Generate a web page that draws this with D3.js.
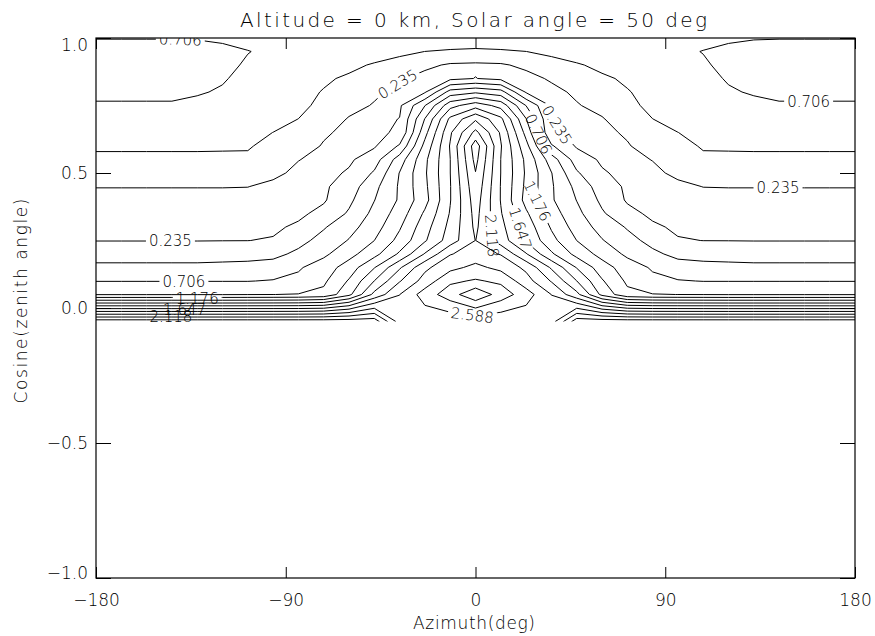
<!DOCTYPE html>
<html>
<head>
<meta charset="utf-8">
<title>Altitude = 0 km, Solar angle = 50 deg</title>
<script src="https://cdn.jsdelivr.net/npm/d3@7"></script>
<style>
  body { margin: 0; background: #fff; }
  text { font-family: "DejaVu Sans", sans-serif; font-weight: 200; fill: #000; }
</style>
</head>
<body>
<div id="graph"></div>
<script>
// model grid: one column every 12 deg of azimuth, one row per cos(zenith)
var azimuth = [-180, -168, -156, -144, -132, -120, -108, -96, -84, -72, -60, -48, -36, -24, -12,
               0, 12, 24, 36, 48, 60, 72, 84, 96, 108, 120, 132, 144, 156, 168, 180];

var cosZenith = [1.0, 0.95, 0.9, 0.85, 0.8, 0.75, 0.7, 0.65, 0.6, 0.55, 0.5,
                 0.45, 0.4, 0.35, 0.3, 0.25, 0.2, 0.15, 0.1, 0.05, -0.05];

// contour levels (IDL style, labels on every other one)
var levels = [0.235, 0.471, 0.706, 0.941, 1.176, 1.412, 1.647, 1.882, 2.118, 2.353, 2.588, 2.824, 3.059];

// radiance, one row per cosZenith value
var radiance = [
  [0.70,0.70,0.70,0.70,0.697,0.683,0.665,0.66,0.655,0.65,0.65,0.65,0.65,0.65,0.65, 0.65, 0.65,0.65,0.65,0.65,0.65,0.65,0.655,0.66,0.665,0.683,0.697,0.70,0.70,0.70,0.70],
  [0.77,0.77,0.77,0.77,0.76,0.74,0.71,0.68,0.66,0.64,0.62,0.58,0.52,0.47,0.44, 0.42, 0.44,0.47,0.52,0.58,0.62,0.64,0.66,0.68,0.71,0.74,0.76,0.77,0.77,0.77,0.77],
  [0.79,0.79,0.79,0.79,0.77,0.74,0.69,0.67,0.64,0.58,0.52,0.45,0.39,0.28,0.21, 0.20, 0.21,0.28,0.39,0.45,0.52,0.58,0.64,0.67,0.69,0.74,0.77,0.79,0.79,0.79,0.79],
  [0.78,0.78,0.78,0.78,0.76,0.72,0.66,0.63,0.58,0.50,0.44,0.37,0.26,0.17,0.18, 0.24, 0.18,0.17,0.26,0.37,0.44,0.50,0.58,0.63,0.66,0.72,0.76,0.78,0.78,0.78,0.78],
  [0.74,0.74,0.74,0.74,0.72,0.69,0.63,0.58,0.53,0.46,0.36,0.27,0.18,0.21,0.80, 0.90, 0.80,0.21,0.18,0.27,0.36,0.46,0.53,0.58,0.63,0.69,0.72,0.74,0.74,0.74,0.74],
  [0.69,0.69,0.69,0.69,0.67,0.64,0.59,0.57,0.52,0.42,0.30,0.22,0.20,0.70,1.33, 1.55, 1.33,0.70,0.20,0.22,0.30,0.42,0.52,0.57,0.59,0.64,0.67,0.69,0.69,0.69,0.69],
  [0.62,0.62,0.62,0.62,0.60,0.58,0.55,0.52,0.47,0.35,0.22,0.18,0.24,0.95,1.70, 2.08, 1.70,0.95,0.24,0.18,0.22,0.35,0.47,0.52,0.55,0.58,0.60,0.62,0.62,0.62,0.62],
  [0.56,0.56,0.56,0.56,0.55,0.53,0.51,0.47,0.38,0.26,0.19,0.20,0.26,1.10,1.85, 2.42, 1.85,1.10,0.26,0.20,0.19,0.26,0.38,0.47,0.51,0.53,0.55,0.56,0.56,0.56,0.56],
  [0.50,0.50,0.50,0.50,0.50,0.49,0.48,0.44,0.32,0.22,0.19,0.21,0.50,1.25,1.90, 2.72, 1.90,1.25,0.50,0.21,0.19,0.22,0.32,0.44,0.48,0.49,0.50,0.50,0.50,0.50,0.50],
  [0.43,0.43,0.43,0.43,0.43,0.44,0.454,0.38,0.24,0.19,0.20,0.36,0.82,1.36,1.88, 2.66, 1.88,1.36,0.82,0.36,0.20,0.19,0.24,0.38,0.454,0.44,0.43,0.43,0.43,0.43,0.43],
  [0.34,0.34,0.34,0.34,0.34,0.34,0.33,0.27,0.20,0.17,0.26,0.50,0.95,1.38,1.88, 2.58, 1.88,1.38,0.95,0.50,0.26,0.17,0.20,0.27,0.33,0.34,0.34,0.34,0.34,0.34,0.34],
  [0.24,0.24,0.24,0.24,0.24,0.24,0.238,0.20,0.17,0.20,0.35,0.64,0.97,1.36,1.87, 2.52, 1.87,1.36,0.97,0.64,0.35,0.20,0.17,0.20,0.238,0.24,0.24,0.24,0.24,0.24,0.24],
  [0.19,0.19,0.19,0.19,0.19,0.19,0.18,0.17,0.17,0.21,0.42,0.70,0.97,1.33,1.87, 2.47, 1.87,1.33,0.97,0.70,0.42,0.21,0.17,0.17,0.18,0.19,0.19,0.19,0.19,0.19,0.19],
  [0.17,0.17,0.17,0.17,0.17,0.17,0.165,0.16,0.19,0.30,0.50,0.77,1.05,1.45,1.90, 2.43, 1.90,1.45,1.05,0.77,0.50,0.30,0.19,0.16,0.165,0.17,0.17,0.17,0.17,0.17,0.17],
  [0.18,0.18,0.18,0.18,0.18,0.18,0.185,0.20,0.27,0.45,0.62,0.84,1.15,1.55,1.95, 2.40, 1.95,1.55,1.15,0.84,0.62,0.45,0.27,0.20,0.185,0.18,0.18,0.18,0.18,0.18,0.18],
  [0.23,0.23,0.23,0.23,0.23,0.232,0.233,0.25,0.40,0.55,0.72,0.94,1.25,1.62,2.00, 2.357, 2.00,1.62,1.25,0.94,0.72,0.55,0.40,0.25,0.233,0.232,0.23,0.23,0.23,0.23,0.23],
  [0.36,0.36,0.36,0.36,0.36,0.37,0.38,0.41,0.52,0.66,0.86,1.10,1.45,1.90,2.34, 2.45, 2.34,1.90,1.45,1.10,0.86,0.66,0.52,0.41,0.38,0.37,0.36,0.36,0.36,0.36,0.36],
  [0.53,0.53,0.53,0.53,0.53,0.54,0.55,0.57,0.68,0.82,1.05,1.40,1.85,2.30,2.52, 2.65, 2.52,2.30,1.85,1.40,1.05,0.82,0.68,0.57,0.55,0.54,0.53,0.53,0.53,0.53,0.53],
  [0.70,0.70,0.70,0.70,0.70,0.70,0.70,0.72,0.76,0.90,1.20,1.65,2.10,2.45,2.78, 2.85, 2.78,2.45,2.10,1.65,1.20,0.90,0.76,0.72,0.70,0.70,0.70,0.70,0.70,0.70,0.70],
  [0.93,0.93,0.93,0.93,0.93,0.93,0.935,0.94,0.95,1.00,1.35,1.95,2.35,2.70,2.95, 3.25, 2.95,2.70,2.35,1.95,1.35,1.00,0.95,0.94,0.935,0.93,0.93,0.93,0.93,0.93,0.93],
  [3.20,3.20,3.20,3.20,3.20,3.20,3.20,3.20,3.20,3.20,3.20,3.20,2.48,2.42,2.40, 2.40, 2.40,2.42,2.48,3.20,3.20,3.20,3.20,3.20,3.20,3.20,3.20,3.20,3.20,3.20,3.20]
];

var xTicks = [-180, -90, 0, 90, 180];
var yTicks = [-1.0, -0.5, 0.0, 0.5, 1.0];

// where IDL put the contour labels: [level, azimuth, cos(zenith), follow the line?]
var labelSpots = [
  [0.706, -140, 0.996, true],
  [0.235, -37, 0.83, true],
  [0.706, 158, 0.77, true],
  [0.235, 143.5, 0.445, true],
  [0.235, -144.7, 0.248, true],
  [0.706, -138.3, 0.10, true],
  [1.176, -132, 0.033, false],
  [1.647, -138, -0.007, false],
  [2.118, -144.5, -0.032, false],
  [2.588, -1.4, -0.02, true],
  [0.235, 33.7, 0.654, true],
  [0.706, 25, 0.626, true],
  [1.176, 27.3, 0.389, true],
  [1.647, 21.6, 0.296, true],
  [2.118, 11, 0.27, true]
];

var w = 875, h = 636;
var box = {left: 96, right: 855, top: 38, bottom: 578};

var x = d3.scaleLinear().domain([-180, 180]).range([box.left, box.right]);
var y = d3.scaleLinear().domain([-1, 1]).range([box.bottom, box.top]);

// grid index -> data value (d3.contours puts sample i at i + 0.5)
var colToAz = d3.scaleLinear()
    .domain([0.5, azimuth.length - 0.5])
    .range([azimuth[0], azimuth[azimuth.length - 1]]);
var rowToMu = d3.scaleLinear()
    .domain(cosZenith.map(function(d, i){ return i + 0.5; }))
    .range(cosZenith);

var svg = d3.select("#graph").append("svg")
    .attr("width", w)
    .attr("height", h);

var defs = svg.append("defs");
var muLow = cosZenith[cosZenith.length - 1];
defs.append("clipPath").attr("id", "dataClip")
  .append("rect")
    .attr("x", x(-180)).attr("y", y(1))
    .attr("width", x(180) - x(-180))
    .attr("height", y(muLow) - y(1));
defs.append("clipPath").attr("id", "boxClip")
  .append("rect")
    .attr("x", box.left).attr("y", box.top)
    .attr("width", box.right - box.left)
    .attr("height", box.bottom - box.top);

var values = [];
radiance.forEach(function(row){ values = values.concat(row); });

var contours = d3.contours()
    .size([azimuth.length, cosZenith.length])
    .thresholds(levels)
    (values);

// contour rings in pixel space
var rings = contours.map(function(c){
  var out = [];
  c.coordinates.forEach(function(poly){
    poly.forEach(function(ring){
      out.push(ring.map(function(p){
        return [x(colToAz(p[0])), y(rowToMu(p[1]))];
      }));
    });
  });
  return out;
});

function insideData(p){
  return p[0] >= x(-180) - 0.5 && p[0] <= x(180) + 0.5 &&
         p[1] >= y(1) - 0.5 && p[1] <= y(muLow) + 0.5;
}

// nearest point on a level's line, with the line's direction there
function snap(li, tx, ty){
  var best = null, bestD = Infinity;
  rings[li].forEach(function(r){
    for (var k = 1; k < r.length; k++){
      var a = r[k - 1], b = r[k];
      if (!insideData(a) || !insideData(b)) continue;
      var dx = b[0] - a[0], dy = b[1] - a[1], L2 = dx * dx + dy * dy;
      if (!L2) continue;
      var t = Math.max(0, Math.min(1, ((tx - a[0]) * dx + (ty - a[1]) * dy) / L2));
      var px = a[0] + t * dx, py = a[1] + t * dy;
      var d = (px - tx) * (px - tx) + (py - ty) * (py - ty);
      if (d < bestD){
        bestD = d;
        best = {x: px, y: py, angle: Math.atan2(dy, dx) * 180 / Math.PI};
      }
    }
  });
  if (best.angle > 90) best.angle -= 180;
  if (best.angle < -90) best.angle += 180;
  return best;
}

// labels first (measured), so each labelled line can get its gap
var labelLayer = svg.append("g").attr("clip-path", "url(#boxClip)");
var placed = labelSpots.map(function(s){
  var li = levels.indexOf(s[0]);
  var tx = x(s[1]), ty = y(s[2]);
  var pos = s[3] ? snap(li, tx, ty) : {x: tx, y: ty, angle: 0};
  var t = labelLayer.append("text")
      .attr("transform", "translate(" + pos.x + "," + pos.y + ") rotate(" + pos.angle + ")")
      .attr("text-anchor", "middle")
      .attr("dy", "0.36em")
      .style("font-size", "15px")
      .text(s[0].toFixed(3));
  return {li: li, pos: pos, len: t.node().getComputedTextLength()};
});

levels.forEach(function(lv, i){
  var m = defs.append("mask").attr("id", "gap" + i)
      .attr("maskUnits", "userSpaceOnUse")
      .attr("x", 0).attr("y", 0).attr("width", w).attr("height", h);
  m.append("rect").attr("width", w).attr("height", h).attr("fill", "white");
  placed.filter(function(p){ return p.li === i; }).forEach(function(p){
    m.append("rect")
      .attr("x", -p.len / 2 - 3).attr("y", -6)
      .attr("width", p.len + 6).attr("height", 12)
      .attr("transform", "translate(" + p.pos.x + "," + p.pos.y + ") rotate(" + p.pos.angle + ")")
      .attr("fill", "black");
  });
});

var lineGen = d3.line()
    .x(function(p){ return p[0]; })
    .y(function(p){ return p[1]; });

svg.insert("g", "g")
    .attr("clip-path", "url(#dataClip)")
  .selectAll("path")
  .data(rings)
  .enter()
  .append("path")
    .attr("d", function(r){ return r.map(lineGen).join(""); })
    .attr("mask", function(r, i){ return "url(#gap" + i + ")"; })
    .attr("fill", "none")
    .attr("stroke", "#000")
    .attr("stroke-width", 1);

// axes: ticks point inwards like IDL
var fmtY = d3.format(".1f");
svg.append("g")
    .attr("transform", "translate(0," + box.bottom + ")")
    .call(d3.axisBottom(x).tickValues(xTicks).tickSize(-11).tickPadding(16).tickFormat(d3.format("d")));
svg.append("g")
    .attr("transform", "translate(0," + box.top + ")")
    .call(d3.axisTop(x).tickValues(xTicks).tickSize(-11).tickFormat(""));
var leftAxis = svg.append("g")
    .attr("transform", "translate(" + box.left + ",0)")
    .call(d3.axisLeft(y).tickValues(yTicks).tickSize(-15).tickPadding(8).tickFormat(fmtY));
svg.append("g")
    .attr("transform", "translate(" + box.right + ",0)")
    .call(d3.axisRight(y).tickValues(yTicks).tickSize(-15).tickFormat(""));

svg.selectAll(".domain").remove();
svg.selectAll(".tick line").attr("stroke", "#000");
svg.selectAll(".tick text")
    .attr("fill", "#000")
    .style("font-size", "17px")
    .style("font-weight", "200")
    .style("font-family", "\"DejaVu Sans\", sans-serif");
// IDL nudges the end labels inside the axis
leftAxis.selectAll(".tick text")
    .attr("dy", function(d){ return d === 1 ? "0.74em" : (d === -1 ? "0.02em" : "0.32em"); });

svg.append("rect")
    .attr("x", box.left).attr("y", box.top)
    .attr("width", box.right - box.left)
    .attr("height", box.bottom - box.top)
    .attr("fill", "none")
    .attr("stroke", "#000")
    .attr("stroke-width", 1.2);

svg.append("text")
    .attr("x", 473.5).attr("y", 27)
    .attr("text-anchor", "middle")
    .attr("textLength", 467)
    .attr("lengthAdjust", "spacing")
    .style("font-size", "20px")
    .text("Altitude = 0 km, Solar angle = 50 deg");

svg.append("text")
    .attr("x", 474).attr("y", 629)
    .attr("text-anchor", "middle")
    .attr("textLength", 122)
    .attr("lengthAdjust", "spacing")
    .style("font-size", "17px")
    .text("Azimuth(deg)");

svg.append("text")
    .attr("transform", "translate(27,301) rotate(-90)")
    .attr("text-anchor", "middle")
    .attr("textLength", 205)
    .attr("lengthAdjust", "spacing")
    .style("font-size", "17px")
    .text("Cosine(zenith angle)");
</script>
</body>
</html>
